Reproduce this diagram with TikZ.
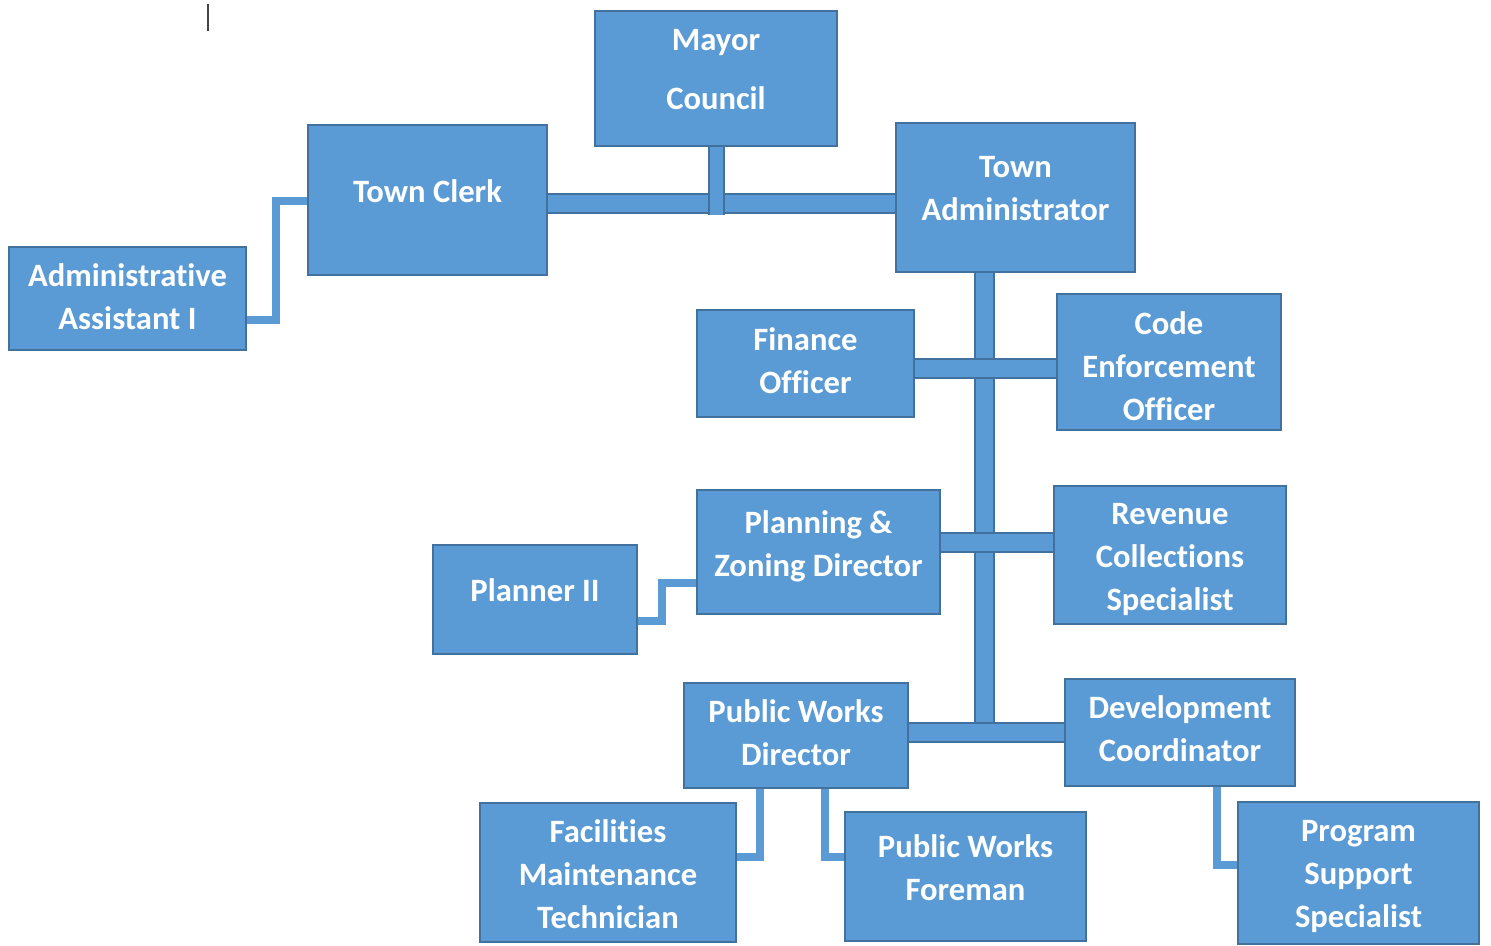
\documentclass[tikz,border=0pt]{standalone}
\usepackage{fontspec}
\setmainfont{Carlito}[Ligatures={NoCommon}]
\definecolor{boxblue}{HTML}{5B9BD5}
\definecolor{boxedge}{HTML}{41719C}
\definecolor{caret}{HTML}{444444}
% strut of one text line: height 31.8pt, depth 11.2pt
\newcommand\lstrut{\rule[-11.2pt]{0pt}{43pt}}
% \orgunit{name}{x1}{y1}{x2}{y2}{label y}{label}
\newcommand\orgunit[7]{%
  \node[orgbox, minimum width={(#4-#2)*1pt}, minimum height={(#5-#3)*1pt}]
    (#1) at ({(#2+#4)/2},{(#3+#5)/2}) {};
  \node[orgtext] (#1-label) at ({(#2+#4)/2},#6) {#7};}
\pgfdeclarelayer{back}
\pgfsetlayers{back,main}
\tikzset{
  orgbox/.style={draw=boxedge, fill=boxblue, line width=2pt, inner sep=0pt},
  orgtext/.style={text=white, font=\fontsize{32.6}{43}\selectfont\bfseries,
    align=center, inner sep=0pt},
  bar/.style={draw=boxedge, line width=2pt, double=boxblue, double distance=17pt},
  stub/.style={bar, double distance=13pt},
  elbow/.style={draw=boxblue, line width=8pt, line join=miter},
}
\begin{document}
\begin{tikzpicture}[x=1pt, y=-1pt]
\useasboundingbox (0,0) rectangle (1491,945);

% positions
\orgunit{mayor}{595}{11}{837}{146}{70}{\lstrut Mayor\\[16pt]\lstrut Council}
\orgunit{clerk}{308}{125}{547}{275}{192}{\lstrut Town Clerk}
\orgunit{admin}{896}{123}{1135}{272}{189}{\lstrut Town\\\lstrut Administrator}
\orgunit{asst}{9}{247}{246}{350}{297.5}{\lstrut Administrative\\\lstrut Assistant I}
\orgunit{fin}{697}{310}{914}{417}{361.5}{\lstrut Finance\\\lstrut Officer}
\orgunit{code}{1057}{294}{1281}{430}{367}{\lstrut Code\\\lstrut Enforcement\\\lstrut Officer}
\orgunit{plan}{697}{490}{940}{614}{544.5}{\lstrut Planning \&\\\lstrut Zoning Director}
\orgunit{rev}{1054}{486}{1286}{624}{557.5}{\lstrut Revenue\\\lstrut Collections\\\lstrut Specialist}
\orgunit{planner}{433}{545}{637}{654}{591.5}{\lstrut Planner II}
\orgunit{pwd}{684}{683}{908}{788}{733.5}{\lstrut Public Works\\\lstrut Director}
\orgunit{devc}{1065}{679}{1295}{786}{730}{\lstrut Development\\\lstrut Coordinator}
\orgunit{fac}{480}{803}{736}{942}{875.5}{\lstrut Facilities\\\lstrut Maintenance\\\lstrut Technician}
\orgunit{fore}{845}{812}{1086}{941}{868.5}{\lstrut Public Works\\\lstrut Foreman}
\orgunit{prog}{1238}{802}{1479}{944}{874.5}{\lstrut Program\\\lstrut Support\\\lstrut Specialist}

\begin{pgfonlayer}{back}
  % main trunk below the administrator
  \draw[bar] (admin.south -| 984,0) -- (984,732.5);
  % cross bars
  \draw[bar] (clerk.east |- 0,203.5) -- (admin.west |- 0,203.5);
  \draw[stub] (mayor.south) -- (mayor.south |- 0,215);
  \draw[bar] (fin.east |- 0,368) -- (code.west |- 0,368);
  \draw[bar] (plan.east |- 0,542.5) -- (rev.west |- 0,542.5);
  \draw[bar] (pwd.east |- devc.west) -- (devc.west);
  % elbow links to subordinate positions
  \draw[elbow] (clerk.west |- 0,201) -| (276,320) -- (asst.east |- 0,320);
  \draw[elbow] (plan.west |- 0,583) -| (662,621) -- (planner.east |- 0,621);
  \draw[elbow] (pwd.south -| 760,0) |- (fac.east |- 0,857);
  \draw[elbow] (pwd.south -| 825,0) |- (fore.west |- 0,857);
  \draw[elbow] (devc.south -| 1217,0) |- (prog.west |- 0,865);
\end{pgfonlayer}

% text caret
\draw[caret, line width=1.5pt] (208,4) -- (208,31);
\end{tikzpicture}
\end{document}
